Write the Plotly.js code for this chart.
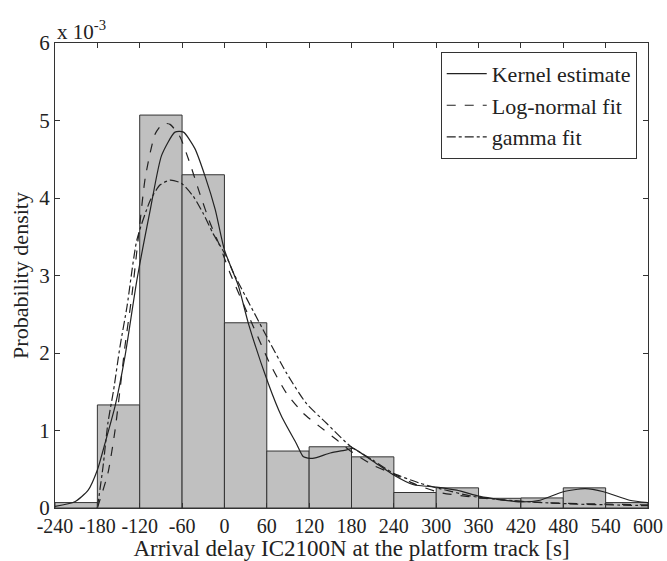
<!DOCTYPE html>
<html>
<head>
<meta charset="utf-8">
<script src="https://cdn.plot.ly/plotly-3.0.1.min.js"></script>
<style>html,body{margin:0;padding:0;background:#fff;}#chart{width:667px;height:561px;}</style>
</head>
<body>
<div id="chart"></div>
<script>
// Histogram bins (s) and densities (units of 1e-3)
const binCenters = [-210,-150,-90,-30,30,90,150,210,270,330,390,450,510,570];
const binDensity = [0.07,1.33,5.07,4.30,2.39,0.735,0.79,0.66,0.20,0.26,0.125,0.13,0.26,0.07];

// Kernel estimate
const kernelX = [-240,-212,-193,-180,-169,-155,-141,-124,-105,-89,-70,-58,-42,-27,-13,0,20,34,62,81,102,112,125,150,173,182,211,239,268,300,329,362,390,419,447,480,511,537,574,600];
const kernelY = [0.02,0.08,0.23,0.49,0.84,1.31,1.95,2.94,3.85,4.55,4.85,4.85,4.64,4.27,3.85,3.33,2.86,2.38,1.61,1.18,0.83,0.66,0.64,0.71,0.75,0.77,0.60,0.43,0.30,0.27,0.23,0.15,0.11,0.08,0.10,0.21,0.25,0.21,0.10,0.07];

// Log-normal fit
const lognX = [-180,-165,-155,-148,-141,-131,-120,-112,-98,-87,-77,-63,-49,-35,-20,-6,8,41,64,88,112,135,159,178,211,239,272,305,343,386,430,480,540,600];
const lognY = [0,0.45,1.0,1.52,2.08,2.75,3.65,4.27,4.83,4.96,4.95,4.79,4.45,4.06,3.67,3.37,3.03,2.34,1.87,1.48,1.22,1.05,0.88,0.74,0.55,0.44,0.30,0.20,0.15,0.11,0.08,0.06,0.05,0.04];

// Gamma fit
const gammaX = [-180,-172,-165,-157,-148,-138,-124,-105,-91,-77,-61,-44,-30,-16,3,13,60,88,116,145,178,210,239,277,305,352,400,450,500,550,600];
const gammaY = [0,0.53,1.10,1.52,2.08,2.60,3.46,3.97,4.17,4.23,4.19,4.02,3.80,3.54,3.24,3.03,2.21,1.74,1.35,1.09,0.80,0.62,0.45,0.32,0.25,0.15,0.10,0.07,0.05,0.04,0.03];

const xTickVals = [-240,-180,-120,-60,0,60,120,180,240,300,360,420,480,540,600];
const xTickText = ["-240","-180","-120","-60","0","60","120","180","240","300","360","420","480","540","600"];
const yTickVals = [0,1,2,3,4,5,6];
const yTickText = ["0","1","2","3","4","5","6"];

const FONT = "Liberation Serif, Times New Roman, serif";
const INK = "#222";

const traces = [
  {type:"bar", x:binCenters, y:binDensity, width:60, showlegend:false,
   marker:{color:"#c0c0c0", line:{color:"#333", width:1}}, hoverinfo:"skip"},
  {type:"scatter", mode:"lines", name:"Kernel estimate", x:kernelX, y:kernelY,
   line:{color:INK, width:1.2, dash:"solid", shape:"spline", smoothing:0.6}},
  {type:"scatter", mode:"lines", name:"Log-normal fit", x:lognX, y:lognY,
   line:{color:INK, width:1.2, dash:"dash", shape:"spline", smoothing:0.6}},
  {type:"scatter", mode:"lines", name:"gamma fit", x:gammaX, y:gammaY,
   line:{color:INK, width:1.2, dash:"dashdot", shape:"spline", smoothing:0.6}}
];

const layout = {
  width:667, height:561,
  margin:{l:55, r:19, t:43, b:53},
  paper_bgcolor:"#fff", plot_bgcolor:"#fff",
  font:{family:FONT, size:20, color:INK},
  bargap:0,
  showlegend:true,
  legend:{x:0.981, xanchor:"right", y:0.981, yanchor:"top",
    bgcolor:"#fff", bordercolor:"#333", borderwidth:1,
    font:{family:FONT, size:22, color:INK}, tracegroupgap:0, itemwidth:40},
  xaxis:{range:[-240,600], tickmode:"array", tickvals:xTickVals, ticktext:xTickText,
    ticks:"inside", ticklen:5, tickcolor:"#333", showline:true, linecolor:"#333", linewidth:1,
    mirror:"ticks", showgrid:false, zeroline:false,
    tickfont:{family:FONT, size:20, color:INK},
    title:{text:"Arrival delay IC2100N at the platform track [s]", font:{family:FONT, size:23, color:INK}, standoff:2}},
  yaxis:{range:[0,6], tickmode:"array", tickvals:yTickVals, ticktext:yTickText,
    ticks:"inside", ticklen:5, tickcolor:"#333", showline:true, linecolor:"#333", linewidth:1,
    mirror:"ticks", showgrid:false, zeroline:false,
    tickfont:{family:FONT, size:21, color:INK},
    title:{text:"Probability density", font:{family:FONT, size:22, color:INK}, standoff:4}},
  annotations:[{xref:"paper", yref:"paper", x:0, y:1, xanchor:"left", yanchor:"bottom",
    text:"x 10<sup>-3</sup>", showarrow:false, font:{family:FONT, size:21, color:INK}, yshift:-3}]
};

Plotly.newPlot("chart", traces, layout, {displayModeBar:false, staticPlot:true});
</script>
</body>
</html>
